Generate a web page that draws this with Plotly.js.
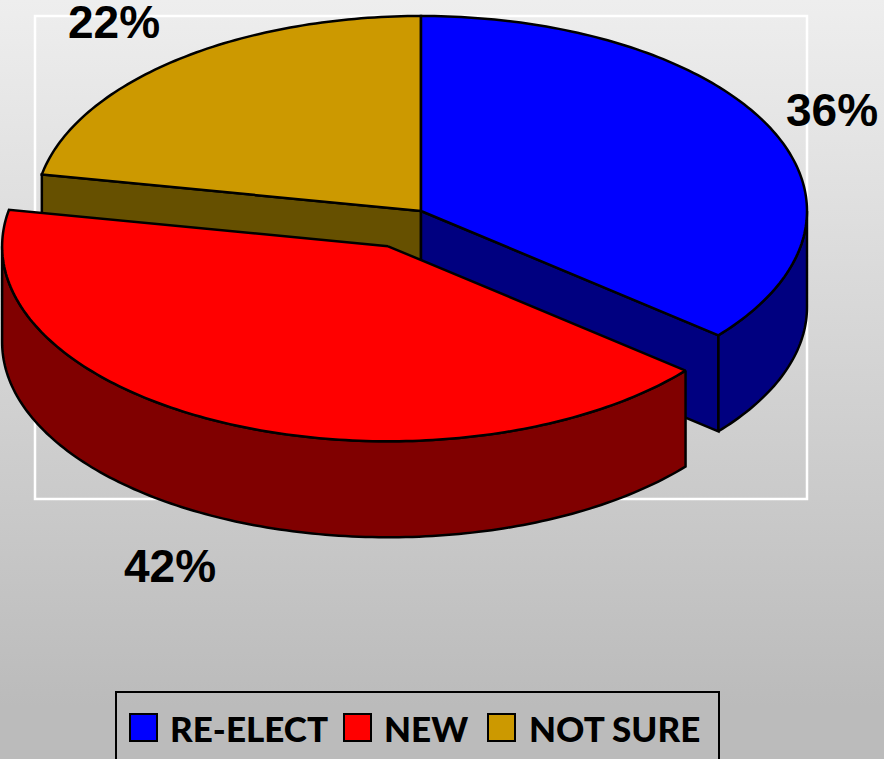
<!DOCTYPE html>
<html>
<head>
<meta charset="utf-8">
<script src="https://cdn.plot.ly/plotly-3.0.1.min.js"></script>
<style>
html,body{margin:0;padding:0;width:884px;height:759px;overflow:hidden;background:linear-gradient(180deg,#eeeeee 0%,#bbbbbb 93%,#bbbbbb 100%);}
#chart{width:884px;height:759px;}
</style>
</head>
<body>
<div id="chart"></div>
<script>
const categories = ["RE-ELECT", "NEW", "NOT SURE"];
const shares = [36, 42, 22];
const explode = [0, 0.2, 0];
const topColors = ["#0000ff", "#ff0000", "#cc9900"];
const sideColors = ["#000080", "#800000", "#665000"];
const pctLabels = ["36%", "42%", "22%"];

// pie projection, in the page-sized axis units
const cx = 421, cy = 211, rx = 386, ry = 195, depth = 96;

const rad = d => d * Math.PI / 180;
const slices = [];
let acc = 0;
shares.forEach((s, i) => {
  const a0 = acc * 3.6, a1 = (acc + s) * 3.6, mid = (a0 + a1) / 2;
  acc += s;
  slices.push({
    a0, a1,
    ox: cx + explode[i] * rx * Math.sin(rad(mid)),
    oy: cy - explode[i] * ry * Math.cos(rad(mid))
  });
});
const rim = (sl, t, dz) => [sl.ox + rx * Math.sin(rad(t)), sl.oy - ry * Math.cos(rad(t)) + (dz || 0)];
function arcPts(sl, from, to, dz) {
  const pts = [], n = Math.max(2, Math.ceil(Math.abs(to - from)));
  for (let k = 0; k <= n; k++) pts.push(rim(sl, from + (to - from) * k / n, dz));
  return pts;
}
function poly(pts, color, name) {
  const closed = pts.concat([pts[0]]);
  return {
    type: "scatter", mode: "lines", fill: "toself", fillcolor: color,
    x: closed.map(p => p[0]), y: closed.map(p => p[1]),
    line: { color: "#000000", width: 2.5, simplify: false, shape: "linear" },
    name, showlegend: false, hoverinfo: "name"
  };
}
const cutFace = (sl, t, color, name) => {
  const p = rim(sl, t);
  return poly([[sl.ox, sl.oy], p, [p[0], p[1] + depth], [sl.ox, sl.oy + depth]], color, name);
};
const outerWall = (sl, from, to, color, name) =>
  poly(arcPts(sl, from, to, 0).concat(arcPts(sl, to, from, depth)), color, name);
const topFace = (sl, color, name) =>
  poly([[sl.ox, sl.oy]].concat(arcPts(sl, sl.a0, sl.a1, 0)), color, name);

const [bl, re, go] = slices;
const traces = [
  cutFace(go, go.a0, sideColors[2], categories[2]),
  cutFace(bl, bl.a1, sideColors[0], categories[0]),
  outerWall(bl, 90, bl.a1, sideColors[0], categories[0]),
  topFace(go, topColors[2], categories[2]),
  topFace(bl, topColors[0], categories[0]),
  outerWall(re, re.a0, 270, sideColors[1], categories[1]),
  topFace(re, topColors[1], categories[1])
];

const labelAnchor = [[832, 110], [170, 566], [114, 22]];
const annotations = pctLabels.map((t, i) => ({
  text: "<b>" + t + "</b>", x: labelAnchor[i][0], y: labelAnchor[i][1], xref: "x", yref: "y",
  showarrow: false, xanchor: "center", yanchor: "middle",
  font: { family: "Liberation Sans, Arial, sans-serif", size: 46, color: "#000000" }
}));

const swatchX = [130, 344, 488];
const legendTextX = [168, 382, 527];
categories.forEach((c, i) => annotations.push({
  text: c, x: legendTextX[i], y: 728, xref: "x", yref: "y",
  showarrow: false, xanchor: "left", yanchor: "middle",
  font: { family: "Lato, sans-serif", size: 35, weight: 900, color: "#000000" }
}));

const shapes = [
  { type: "rect", layer: "below", xref: "x", yref: "y", x0: 35, x1: 807, y0: 16, y1: 499,
    line: { color: "#ffffff", width: 2.5 }, fillcolor: "rgba(0,0,0,0)" },
  { type: "rect", layer: "above", xref: "x", yref: "y", x0: 116, x1: 719, y0: 692, y1: 775,
    line: { color: "#000000", width: 2 }, fillcolor: "rgba(0,0,0,0)" }
];
categories.forEach((c, i) => shapes.push({
  type: "rect", layer: "above", xref: "x", yref: "y",
  x0: swatchX[i], x1: swatchX[i] + 27, y0: 714, y1: 741,
  line: { color: "#000000", width: 2 }, fillcolor: topColors[i]
}));

const axis = { visible: false, fixedrange: true, showgrid: false, zeroline: false };
Plotly.newPlot("chart", traces, {
  width: 884, height: 759,
  margin: { l: 0, r: 0, t: 0, b: 0, pad: 0 },
  paper_bgcolor: "rgba(0,0,0,0)", plot_bgcolor: "rgba(0,0,0,0)",
  showlegend: false,
  xaxis: Object.assign({ range: [0, 884] }, axis),
  yaxis: Object.assign({ range: [759, 0] }, axis),
  shapes, annotations
}, { staticPlot: true, displayModeBar: false });
</script>
</body>
</html>
